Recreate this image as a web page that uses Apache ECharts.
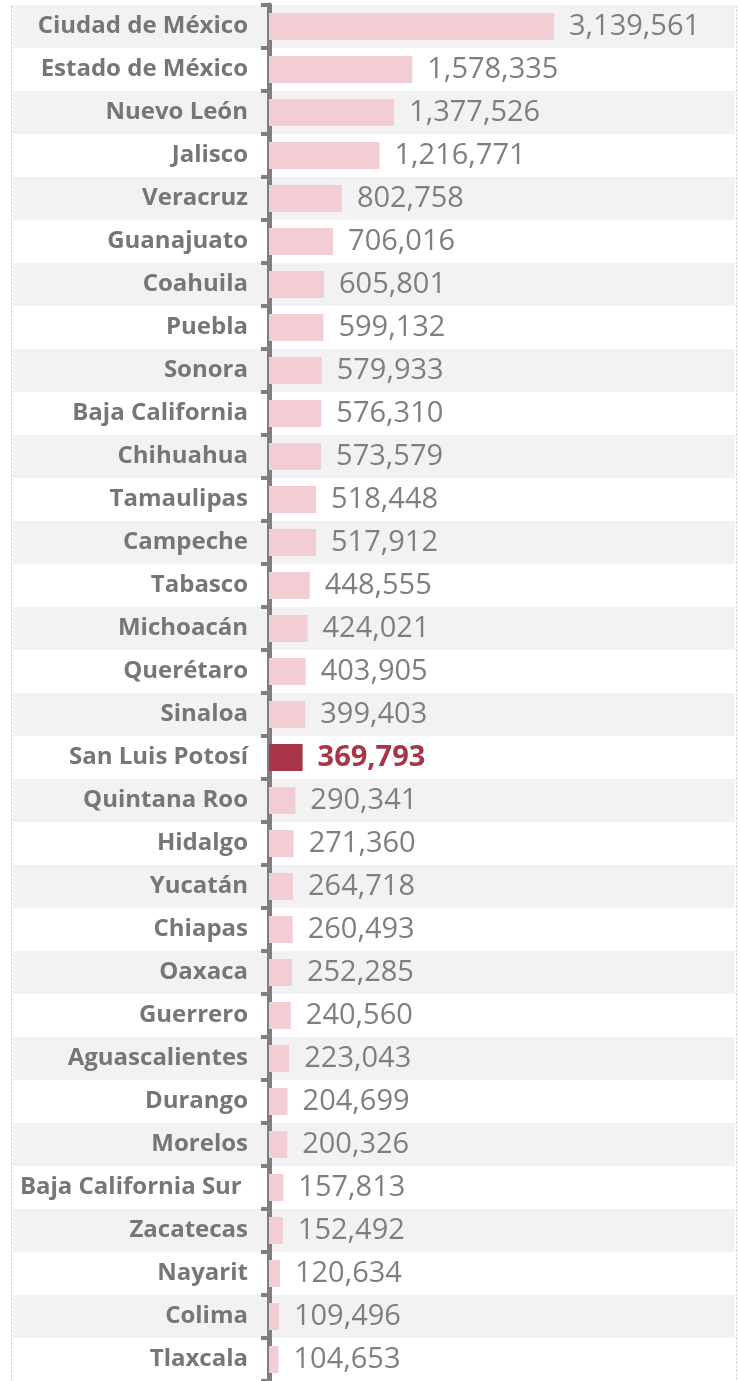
<!DOCTYPE html>
<html>
<head>
<meta charset="utf-8">
<script src="https://cdn.jsdelivr.net/npm/echarts@6/dist/echarts.min.js"></script>
<style>
  html, body { margin: 0; padding: 0; background: #fff; }
  #main { width: 740px; height: 1381px; }
</style>
</head>
<body>
<div id="main"></div>
<script>
  // states, top to bottom
  const states = ['Ciudad de México', 'Estado de México', 'Nuevo León', 'Jalisco', 'Veracruz', 'Guanajuato',
    'Coahuila', 'Puebla', 'Sonora', 'Baja California', 'Chihuahua', 'Tamaulipas', 'Campeche', 'Tabasco',
    'Michoacán', 'Querétaro', 'Sinaloa', 'San Luis Potosí', 'Quintana Roo', 'Hidalgo', 'Yucatán', 'Chiapas',
    'Oaxaca', 'Guerrero', 'Aguascalientes', 'Durango', 'Morelos', 'Baja California Sur ', 'Zacatecas',
    'Nayarit', 'Colima', 'Tlaxcala']
  const values = [3139561, 1578335, 1377526, 1216771, 802758, 706016, 605801, 599132, 579933, 576310,
    573579, 518448, 517912, 448555, 424021, 403905, 399403, 369793, 290341, 271360, 264718, 260493,
    252285, 240560, 223043, 204699, 200326, 157813, 152492, 120634, 109496, 104653]
  const highlight = 'San Luis Potosí'

  const pink = '#f2cdd4'
  const red = '#a8344a'
  const grey = '#7f7f7f'

  const barData = values.map(function (v, i) {
    if (states[i] === highlight) {
      return {
        value: v,
        itemStyle: { color: red },
        label: { color: red, fontWeight: 'bold' }
      }
    }
    return v
  })

  const chart = echarts.init(document.getElementById('main'))
  chart.setOption({
    animation: false,
    graphic: [{
      type: 'rect',
      shape: { x: 11.5, y: 6.5, width: 725, height: 1390 },
      style: { fill: 'none', stroke: '#c8c8c8', lineWidth: 1, lineDash: [2, 2] },
      z: -10
    }],
    grid: [
      // row stripes across the full width
      { left: 13, right: 5, top: 5, height: 1379 },
      { left: 269, right: 3, top: 5, height: 1379 }
    ],
    xAxis: [
      { gridIndex: 0, type: 'value', show: false, min: 0, max: 1 },
      { gridIndex: 1, type: 'value', show: false, min: 0, max: 5155000 }
    ],
    yAxis: [
      {
        gridIndex: 0, type: 'category', data: states, inverse: true,
        axisLine: { show: false }, axisTick: { show: false }, axisLabel: { show: false },
        splitArea: { show: true, areaStyle: { color: ['#f2f2f2', '#ffffff'] } }
      },
      {
        gridIndex: 1, type: 'category', data: states, inverse: true, offset: 4,
        axisLine: { show: true, lineStyle: { color: grey, width: 5 } },
        axisTick: { show: true, length: 8, lineStyle: { color: grey, width: 4 } },
        axisLabel: {
          margin: 17, color: '#767676', fontWeight: 'bold', fontSize: 24,
          fontFamily: 'Open Sans', padding: [4, 0, 0, 0]
        },
        splitLine: { show: false }
      }
    ],
    series: [{
      type: 'bar',
      xAxisIndex: 1,
      yAxisIndex: 1,
      data: barData,
      barWidth: 27,
      itemStyle: { color: pink },
      label: {
        show: true,
        position: 'right',
        distance: 15,
        color: grey,
        fontSize: 29,
        fontFamily: 'Open Sans',
        padding: [6, 0, 0, 0],
        formatter: function (p) { return p.value.toLocaleString('en-US') }
      }
    }]
  })
</script>
</body>
</html>
